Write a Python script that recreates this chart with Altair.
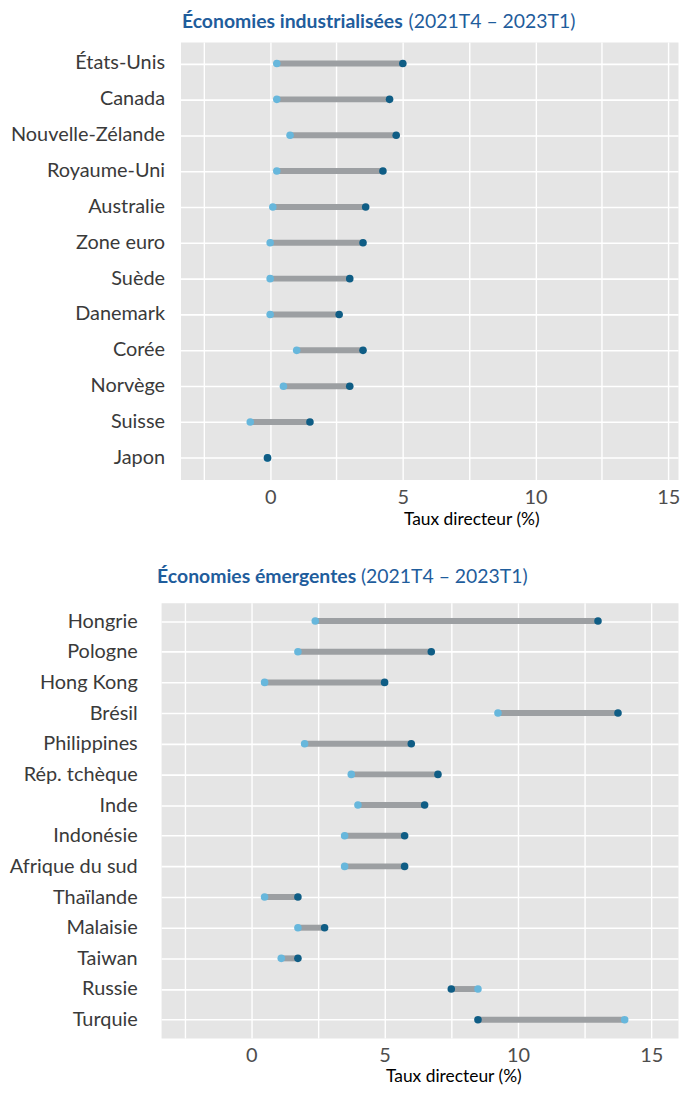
import altair as alt
import pandas as pd

# ---- Data ----
ind_countries = ["États-Unis", "Canada", "Nouvelle-Zélande", "Royaume-Uni", "Australie",
                 "Zone euro", "Suède", "Danemark", "Corée", "Norvège", "Suisse", "Japon"]
ind_start = [0.25, 0.25, 0.75, 0.25, 0.1, 0.0, 0.0, 0.0, 1.0, 0.5, -0.75, -0.1]
ind_end = [5.0, 4.5, 4.75, 4.25, 3.6, 3.5, 3.0, 2.6, 3.5, 3.0, 1.5, -0.1]

em_countries = ["Hongrie", "Pologne", "Hong Kong", "Brésil", "Philippines", "Rép. tchèque",
                "Inde", "Indonésie", "Afrique du sud", "Thaïlande", "Malaisie", "Taiwan",
                "Russie", "Turquie"]
em_start = [2.4, 1.75, 0.5, 9.25, 2.0, 3.75, 4.0, 3.5, 3.5, 0.5, 1.75, 1.125, 8.5, 14.0]
em_end = [13.0, 6.75, 5.0, 13.75, 6.0, 7.0, 6.5, 5.75, 5.75, 1.75, 2.75, 1.75, 7.5, 8.5]

x_values = [-2.5, 0, 2.5, 5, 7.5, 10, 12.5, 15]

FONT = "Lato"
BLUE_TITLE = "#1f5d9c"
LIGHT = "#67b7dc"
DARK = "#0f5d85"
SEG = "#9c9fa2"
LABEL_COLOR = "#3a3a3a"


def panel(countries, start, end, domain, width, height, bold, normal,
          title_x, normal_x, title_y, axis_title_x, axis_title_y, label_pad, cover=0):
    df = pd.DataFrame({"pays": countries, "debut": start, "fin": end})
    yscale = alt.Scale(type="point", padding=0.6)
    if cover:
        yaxis = alt.Axis(title=None, labels=False, ticks=False, domain=False, grid=True,
                         gridColor="white", gridWidth=1.6)
    else:
        yaxis = alt.Axis(title=None, labelFontSize=20, labelFont=FONT, labelColor=LABEL_COLOR,
                         labelPadding=label_pad, ticks=False, domain=False, grid=True,
                         gridColor="white", gridWidth=1.6, labelLimit=300)
    xscale = alt.Scale(domain=domain, nice=False, zero=False)
    xaxis = alt.Axis(values=x_values,
                     labelExpr="datum.value % 5 == 0 ? datum.label : ''",
                     title="Taux directeur (%)", titleFontSize=17.5, titleFont=FONT,
                     titleFontWeight="normal", titleColor="black",
                     titleX=axis_title_x, titleY=axis_title_y, titleAnchor="middle",
                     labelFontSize=20, labelFont=FONT, labelColor="#4d4d4d",
                     labelPadding=8, ticks=False, domain=False, grid=True,
                     gridColor="white", gridWidth=1.4)
    base = alt.Chart(df)
    seg = base.mark_rule(color=SEG, strokeWidth=6).encode(
        x=alt.X("debut:Q", scale=xscale, axis=xaxis),
        x2="fin:Q",
        y=alt.Y("pays:N", sort=countries, scale=yscale, axis=yaxis),
    )
    p_start = base.mark_circle(color=LIGHT, size=58, opacity=1).encode(
        x="debut:Q", y=alt.Y("pays:N", sort=countries))
    p_end = base.mark_circle(color=DARK, size=58, opacity=1).encode(
        x="fin:Q", y=alt.Y("pays:N", sort=countries))
    t_bold = alt.Chart(pd.DataFrame({"t": [bold]})).mark_text(
        font=FONT, fontSize=19.5, fontWeight="bold", color=BLUE_TITLE,
        align="left", baseline="middle").encode(
        text="t:N", x=alt.value(title_x), y=alt.value(title_y))
    t_norm = alt.Chart(pd.DataFrame({"t": [normal]})).mark_text(
        font=FONT, fontSize=19.5, fontWeight="normal", color=BLUE_TITLE,
        align="left", baseline="middle").encode(
        text="t:N", x=alt.value(normal_x), y=alt.value(title_y))
    layers = [seg, p_start, p_end, t_bold, t_norm]
    if cover:
        # white strip left of the grey panel (the panel starts further right)
        strip = alt.Chart(pd.DataFrame({"k": [0]})).mark_rect(color="white").encode(
            x=alt.value(-1), x2=alt.value(cover), y=alt.value(-1), y2=alt.value(height + 2))
        labels = base.mark_text(font=FONT, fontSize=20, color=LABEL_COLOR,
                                align="right", baseline="middle").encode(
            y=alt.Y("pays:N", sort=countries), text="pays:N",
            x=alt.value(cover - label_pad))
        layers = [strip] + layers + [labels]
    return alt.layer(*layers).properties(width=width, height=height)


top = panel(ind_countries, ind_start, ind_end, [-4.11, 15.37], 520, 440,
            "Économies industrialisées", "(2021T4 – 2023T1)",
            21, 249, -20, 312, 31, 16, cover=20)
bottom = panel(em_countries, em_start, em_end, [-3.38, 16.0], 520, 438,
               "Économies émergentes", "(2021T4 – 2023T1)",
               -4, 201, -26, 294, 30, 24)

chart = alt.vconcat(top, bottom, spacing=38).properties(
    padding=0, background="white"
).configure_view(fill="#e5e5e5", stroke="transparent")

chart.save("out.html", embed_options={"renderer": "svg", "actions": False})
